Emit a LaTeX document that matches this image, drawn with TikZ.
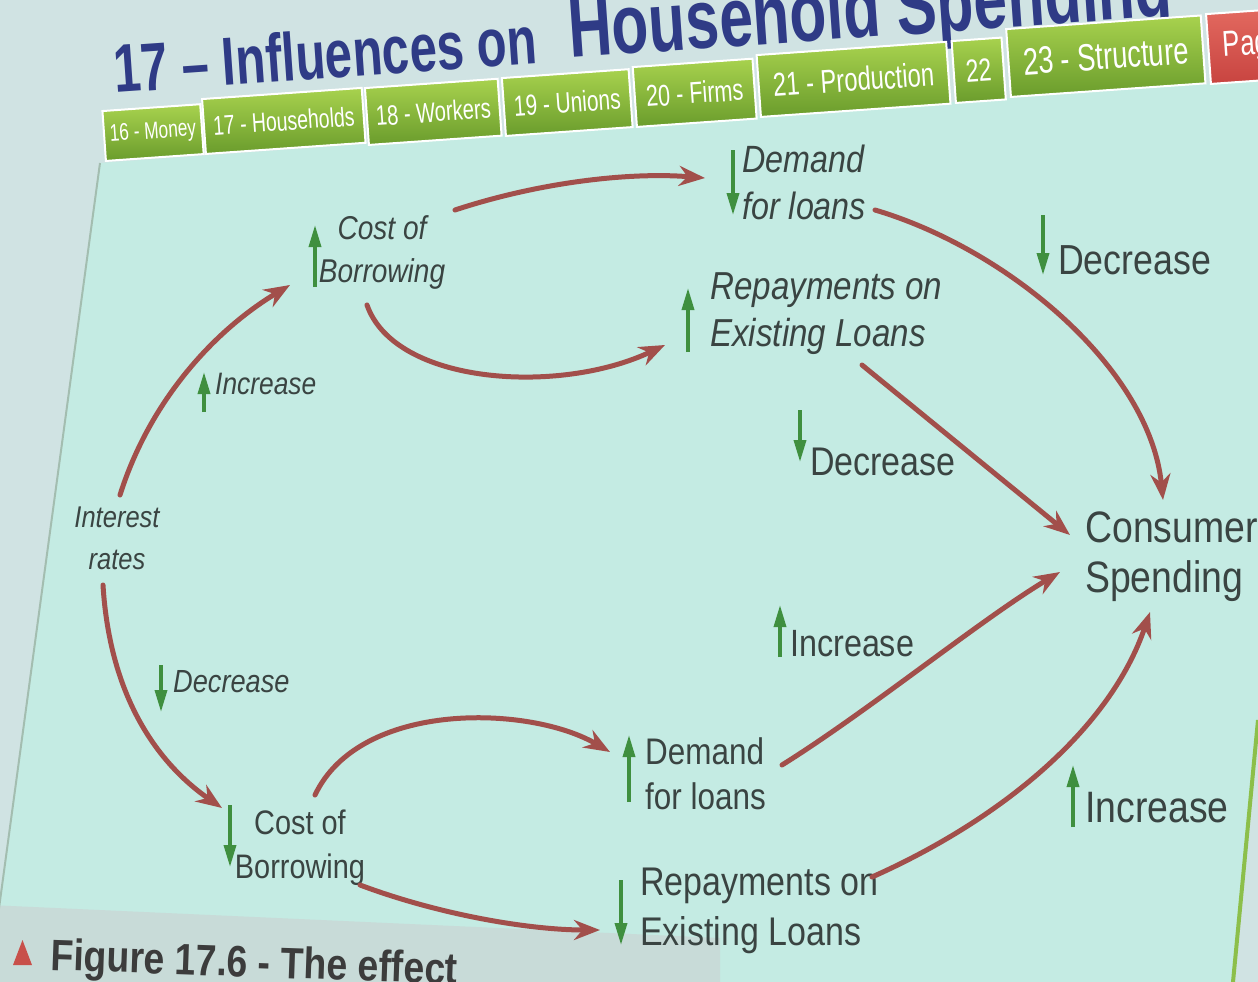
\documentclass[tikz,border=0pt]{standalone}
\usepackage{fontspec}
\setmainfont{Liberation Sans}
\newfontfamily\labf[FakeStretch=0.85]{Liberation Sans}
\newfontfamily\tabf[FakeStretch=0.72]{Liberation Sans}
\usetikzlibrary{arrows.meta}
\definecolor{bgout}{HTML}{D0E3E3}
\definecolor{panel}{HTML}{C4EBE3}
\definecolor{band}{HTML}{C8DBD8}
\definecolor{labtxt}{HTML}{3A4442}
\definecolor{arrowred}{HTML}{A24F4B}
\definecolor{agreen}{HTML}{3F8F3F}
\definecolor{tabtop}{HTML}{A8D24E}
\definecolor{tabbot}{HTML}{6A9C2C}
\definecolor{redtop}{HTML}{E36A60}
\definecolor{redbot}{HTML}{C84440}
\definecolor{titblue}{HTML}{2F3B86}
\definecolor{captxt}{HTML}{3C3C3C}
\definecolor{capred}{HTML}{C8504A}
\definecolor{edgegreen}{HTML}{8CBF4A}
\definecolor{edgegray}{HTML}{A3BDB0}
\begin{document}
\begin{tikzpicture}[x=1pt,y=-1pt,
  lbl/.style={inner sep=0pt,text=labtxt,anchor=north west,align=left},
  lbli/.style 2 args={lbl,font=\labf\itshape\fontsize{#1}{#2}\selectfont},
  lblu/.style 2 args={lbl,font=\labf\fontsize{#1}{#2}\selectfont},
  redarr/.style={draw=arrowred,line width=5pt,line cap=round,-{Stealth[length=26pt,width=20pt]}},
  gar/.style={draw=agreen,line width=3.5pt,-{Triangle[length=22pt,width=12pt]}},
  tabbox/.style n args={3}{draw=white,line width=2pt,top color=tabtop,bottom color=tabbot,text=white,rotate=4,anchor=south west,inner sep=0pt,minimum width=#1,minimum height=#2,font=\tabf\fontsize{#3}{#3}\selectfont},
  titl/.style={anchor=base west,rotate=4,inner sep=0pt,text=titblue},
]
\useasboundingbox (0,0) rectangle (1258,982);
\clip (0,0) rectangle (1258,982);
% background and panel
\fill[bgout] (0,0) rectangle (1258,982);
\fill[panel] (100,163) -- (1258,80) -- (1258,720) -- (1233,982) -- (-11,982) -- cycle;
\fill[band] (-11,905) -- (720,938) -- (720,982) -- (-11,982) -- cycle;
\draw[edgegray,line width=2pt] (100,163) -- (-11,982);
\draw[edgegreen,line width=4pt] (1258,720) -- (1233,982);

% title
\node[titl,font=\tabf\bfseries\fontsize{68}{68}\selectfont] (t1) at (115,93) {17 – Influences on};
\node[titl,font=\tabf\bfseries\fontsize{84}{84}\selectfont] (t2) at (570,58) {Household Spending};

% tabs
\node[tabbox={98}{50}{24}] (tab16) at (105,162) {16 - Money};
\node[tabbox={160}{55}{27}] (tab17) at (205,155) {17 - Households};
\node[tabbox={133}{57}{28}] (tab18) at (368,146) {18 - Workers};
\node[tabbox={127}{58}{29}] (tab19) at (505,137) {19 - Unions};
\node[tabbox={120}{60}{30}] (tab20) at (636,128) {20 - Firms};
\node[tabbox={190}{62}{33}] (tab21) at (760,118) {21 - Production};
\node[tabbox={50}{62}{32}] (tab22) at (955,104) {22};
\node[tabbox={195}{68}{38}] (tab23) at (1010,98) {23 - Structure};
\node[tabbox={90}{70}{36},top color=redtop,bottom color=redbot] (tabp) at (1210,85) {Page};

% labels
\node[lbli={38}{47}] (dlA) at (742,145) {Demand\\for loans};
\node[lbli={33}{43},anchor=north,align=center] (cbA) at (382,215) {Cost of\\Borrowing};
\node[lbli={39}{47}] (reA) at (710,272) {Repayments on\\Existing Loans};
\node[lblu={42}{42}] (decA) at (1058,245) {Decrease};
\node[lbli={31}{31}] (incL) at (215,373) {Increase};
\node[lblu={40}{40}] (decM) at (810,448) {Decrease};
\node[lbli={30}{42},anchor=north,align=center] (ir) at (117,507) {Interest\\rates};
\node[lblu={44}{50}] (cs) at (1085,512) {Consumer\\Spending};
\node[lblu={38}{38}] (incM) at (790,630) {Increase};
\node[lbli={32}{32}] (decL) at (173,670) {Decrease};
\node[lblu={37}{45}] (dlB) at (645,737) {Demand\\for loans};
\node[lblu={44}{44}] (incR) at (1085,792) {Increase};
\node[lblu={34}{44},anchor=north,align=center] (cbB) at (300,810) {Cost of\\Borrowing};
\node[lblu={40}{50}] (reB) at (640,868) {Repayments on\\Existing Loans};

% caption
\fill[capred] (13,965) -- (32,965) -- (22.5,940) -- cycle;
\node[anchor=base west,rotate=-2,inner sep=0pt,text=captxt,font=\labf\bfseries\fontsize{44}{44}\selectfont] (cap) at (50,970) {Figure 17.6 - The effect};

% green up/down arrows
\draw[gar] (733,150) -- (733,215);
\draw[gar] (315,287) -- (315,225);
\draw[gar] (688,352) -- (688,288);
\draw[gar] (1043,215) -- (1043,275);
\draw[gar] (204,412) -- (204,372);
\draw[gar] (800,410) -- (800,462);
\draw[gar] (780,657) -- (780,605);
\draw[gar] (161,665) -- (161,712);
\draw[gar] (629,802) -- (629,735);
\draw[gar] (1073,827) -- (1073,765);
\draw[gar] (230,805) -- (230,867);
\draw[gar] (621,880) -- (621,945);

% red connectors
\draw[redarr] ([shift={(73,-5)}]cbA.north) .. controls (540,182) and (630,172) .. ([shift={(-37,33)}]dlA.north west);
\draw[redarr] ([shift={(-15,90)}]cbA.north) .. controls (395,385) and (560,395) .. ([shift={(-45,73)}]reA.north west);
\draw[redarr] ([shift={(133,65)}]dlA.north west) .. controls (1010,250) and (1150,370) .. ([shift={(78,-12)}]cs.north west);
\draw[redarr] ([shift={(152,93)}]reA.north west) -- ([shift={(-15,23)}]cs.north west);
\draw[redarr] ([shift={(3,-12)}]ir.north) .. controls (150,400) and (215,330) .. ([shift={(-92,70)}]cbA.north);
\draw[redarr] ([shift={(-14,78)}]ir.north) .. controls (110,700) and (160,765) .. ([shift={(-78,-2)}]cbB.north);
\draw[redarr] ([shift={(15,-15)}]cbB.north) .. controls (360,700) and (530,705) .. ([shift={(-35,15)}]dlB.north west);
\draw[redarr] ([shift={(60,75)}]cbB.north) .. controls (440,915) and (530,930) .. ([shift={(-40,62)}]reB.north west);
\draw[redarr] ([shift={(137,28)}]dlB.north west) .. controls (870,710) and (980,620) .. ([shift={(-25,60)}]cs.north west);
\draw[redarr] ([shift={(232,9)}]reB.north west) .. controls (1000,820) and (1110,730) .. ([shift={(65,100)}]cs.north west);
\end{tikzpicture}
\end{document}
